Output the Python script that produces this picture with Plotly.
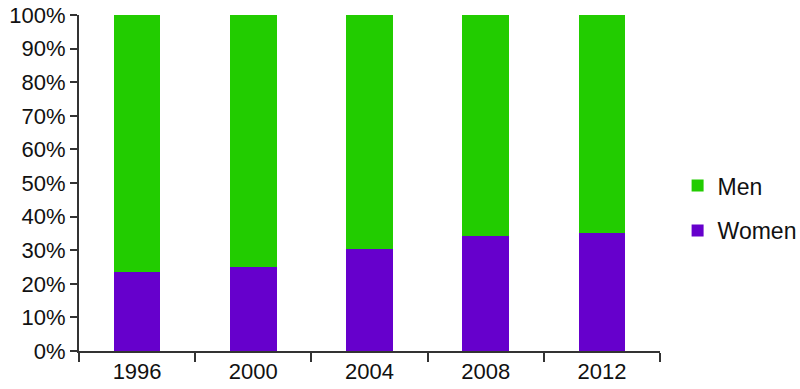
import plotly.graph_objects as go

years = ["1996", "2000", "2004", "2008", "2012"]
women = [23.5, 25.0, 30.4, 34.2, 35.1]
men = [76.5, 75.0, 69.6, 65.8, 64.9]

fig = go.Figure()
fig.add_trace(go.Bar(x=years, y=women, name="Women", legendgroup="w", legendrank=2,
                     marker=dict(color="#6600CC", line=dict(width=0)), width=0.4))
fig.add_trace(go.Bar(x=years, y=men, name="Men", legendgroup="m", legendrank=1,
                     marker=dict(color="#22CC00", line=dict(width=0)), width=0.4))

fig.update_layout(
    width=800, height=389,
    barmode="stack",
    paper_bgcolor="white", plot_bgcolor="white",
    margin=dict(l=79, r=140, t=15, b=38, autoexpand=False),
    font=dict(family="Liberation Sans, Arial, sans-serif", size=22, color="#111"),
    legend=dict(traceorder="grouped", xref="container", yref="container",
                x=0.847, y=0.465, yanchor="middle", xanchor="left",
                font=dict(size=23), itemsizing="constant", tracegroupgap=12),
    showlegend=True,
)
fig.update_xaxes(type="category", tickson="boundaries", ticks="outside", ticklen=9, tickwidth=1.5,
                 tickcolor="#333", showline=True, linecolor="#333", linewidth=2, showgrid=False,
                 automargin=False, tickfont=dict(size=22))
fig.update_yaxes(range=[0, 100], dtick=10, ticksuffix="%", ticks="outside", ticklen=7, tickwidth=2,
                 tickcolor="#333", showline=True, linecolor="#333", linewidth=2, showgrid=False,
                 zeroline=False, automargin=False, tickfont=dict(size=22))

fig.write_html("out.html", config={"displayModeBar": False},
               post_script="document.body.style.margin='0';")
